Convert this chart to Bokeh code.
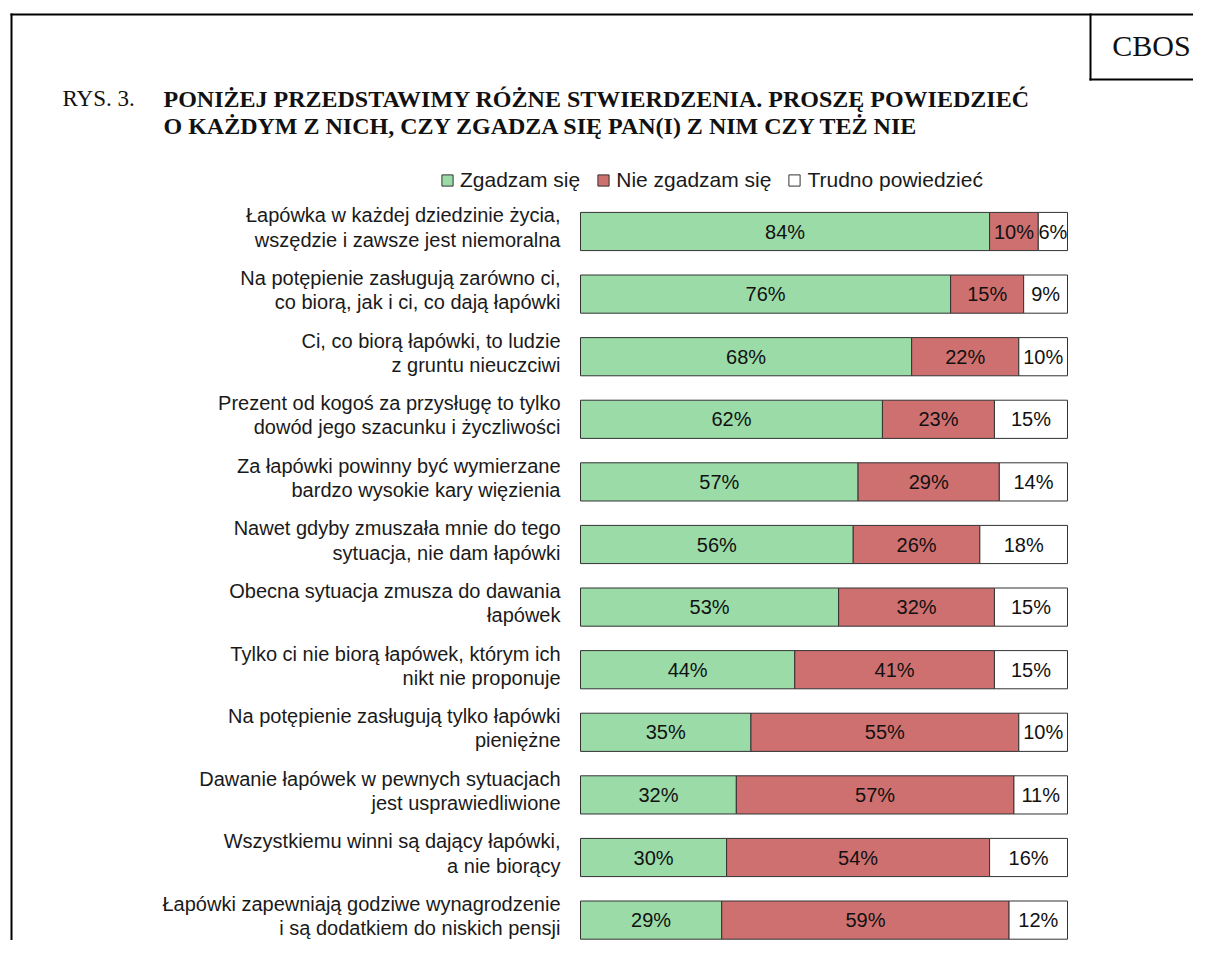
from bokeh.plotting import figure
from bokeh.models import ColumnDataSource, Range1d, Label, BoxAnnotation, Legend, LegendItem
from bokeh.core.properties import value
from bokeh.embed import file_html
from bokeh.resources import INLINE

statements = [
    "Łapówka w każdej dziedzinie życia,\nwszędzie i zawsze jest niemoralna",
    "Na potępienie zasługują zarówno ci,\nco biorą, jak i ci, co dają łapówki",
    "Ci, co biorą łapówki, to ludzie\nz gruntu nieuczciwi",
    "Prezent od kogoś za przysługę to tylko\ndowód jego szacunku i życzliwości",
    "Za łapówki powinny być wymierzane\nbardzo wysokie kary więzienia",
    "Nawet gdyby zmuszała mnie do tego\nsytuacja, nie dam łapówki",
    "Obecna sytuacja zmusza do dawania\nłapówek",
    "Tylko ci nie biorą łapówek, którym ich\nnikt nie proponuje",
    "Na potępienie zasługują tylko łapówki\npieniężne",
    "Dawanie łapówek w pewnych sytuacjach\njest usprawiedliwione",
    "Wszystkiemu winni są dający łapówki,\na nie biorący",
    "Łapówki zapewniają godziwe wynagrodzenie\ni są dodatkiem do niskich pensji",
]
agree = [84, 76, 68, 62, 57, 56, 53, 44, 35, 32, 30, 29]
disagree = [10, 15, 22, 23, 29, 26, 32, 41, 55, 57, 54, 59]
hard = [6, 9, 10, 15, 14, 18, 15, 15, 10, 11, 16, 12]
series_names = ["Zgadzam się", "Nie zgadzam się", "Trudno powiedzieć"]
colors = ["#9BDBA8", "#CF7070", "#FFFFFF"]

SANS = "Liberation Sans"
SERIF = "Liberation Serif"

W, H = 1193, 940
BAR_LEFT, PX_PER_PCT = 580, 4.87     # layout: where 0 % sits, pixels per 1 %
ROW0, ROW_STEP = 231, 62.6           # layout: centre of first row, row pitch

pos = list(range(len(statements)))
a_end = list(agree)
d_end = [a + d for a, d in zip(agree, disagree)]
h_end = [a + d + h for a, d, h in zip(agree, disagree, hard)]

src = ColumnDataSource(dict(
    pos=pos, cat=statements,
    a0=[0] * len(agree), a1=a_end, d1=d_end, h1=h_end,
    am=[v / 2 for v in a_end],
    dm=[(a + b) / 2 for a, b in zip(a_end, d_end)],
    hm=[(a + b) / 2 for a, b in zip(d_end, h_end)],
    at=[f"{v}%" for v in agree],
    dt=[f"{v}%" for v in disagree],
    ht=[f"{v}%" for v in hard],
    lx=[0] * len(agree),
))

p = figure(
    width=W, height=H,
    x_range=Range1d(-BAR_LEFT / PX_PER_PCT, (W - BAR_LEFT) / PX_PER_PCT),
    y_range=Range1d((H - ROW0) / ROW_STEP, -ROW0 / ROW_STEP),
    output_backend="svg", toolbar_location=None,
    min_border=0, min_border_left=0, min_border_right=0, min_border_top=0, min_border_bottom=0,
)
p.axis.visible = False
p.grid.visible = False
p.outline_line_color = None
p.background_fill_color = "white"
p.border_fill_color = "white"

bh = 0.61
r1 = p.hbar(y="pos", left="a0", right="a1", height=bh, source=src,
            fill_color=colors[0], line_color="#333333", line_width=1)
r2 = p.hbar(y="pos", left="a1", right="d1", height=bh, source=src,
            fill_color=colors[1], line_color="#333333", line_width=1)
r3 = p.hbar(y="pos", left="d1", right="h1", height=bh, source=src,
            fill_color=colors[2], line_color="#333333", line_width=1)

for xcol, tcol in (("am", "at"), ("dm", "dt"), ("hm", "ht")):
    p.text(x=xcol, y="pos", text=tcol, source=src,
           text_font=value(SANS), text_font_size="20px", text_color="#111111",
           text_align="center", text_baseline="middle")

p.text(x="lx", y="pos", text="cat", source=src, x_offset=-20, y_offset=-4,
       text_font=value(SANS), text_font_size="20px", text_color="#1a1a1a",
       text_align="right", text_baseline="middle", text_line_height=1.1)

legend = Legend(
    items=[LegendItem(label=series_names[i], renderers=[r]) for i, r in enumerate((r1, r2, r3))],
    orientation="horizontal", location=(440, H - 192),
    border_line_color=None, background_fill_alpha=0,
    padding=0, margin=0, spacing=16, label_standoff=6,
    glyph_width=14, glyph_height=14,
    label_text_font=SANS, label_text_font_size="21px", label_text_color="#1a1a1a",
)
p.add_layout(legend, "center")

# header texts (screen units, origin at the frame's bottom-left)
def lab(x, y, text, **kw):
    p.add_layout(Label(x=x, y=H - y, x_units="screen", y_units="screen", text=text,
                       text_baseline="middle", text_color="#111111", **kw))

lab(62, 98, "RYS. 3.", text_font=SERIF, text_font_size="23px")
lab(163, 98, "PONIŻEJ PRZEDSTAWIMY RÓŻNE STWIERDZENIA. PROSZĘ POWIEDZIEĆ",
    text_font=SERIF, text_font_style="bold", text_font_size="24px")
lab(163, 125, "O KAŻDYM Z NICH, CZY ZGADZA SIĘ PAN(I) Z NIM CZY TEŻ NIE",
    text_font=SERIF, text_font_style="bold", text_font_size="24px")
lab(1151, 45, "CBOS", text_font=SERIF, text_font_size="30px", text_align="center")

# frame lines
def rule(l, r, t, b):
    p.add_layout(BoxAnnotation(left=l, right=r, top=H - t, bottom=H - b,
                               left_units="screen", right_units="screen",
                               top_units="screen", bottom_units="screen",
                               fill_color="black", fill_alpha=1, line_alpha=0))

rule(10, W + 20, 13, 15)
rule(10, 12, 13, H + 20)
rule(1089, 1091, 13, 80)
rule(1089, W + 20, 78, 80)

open("out.html", "w").write(file_html(p, INLINE))
